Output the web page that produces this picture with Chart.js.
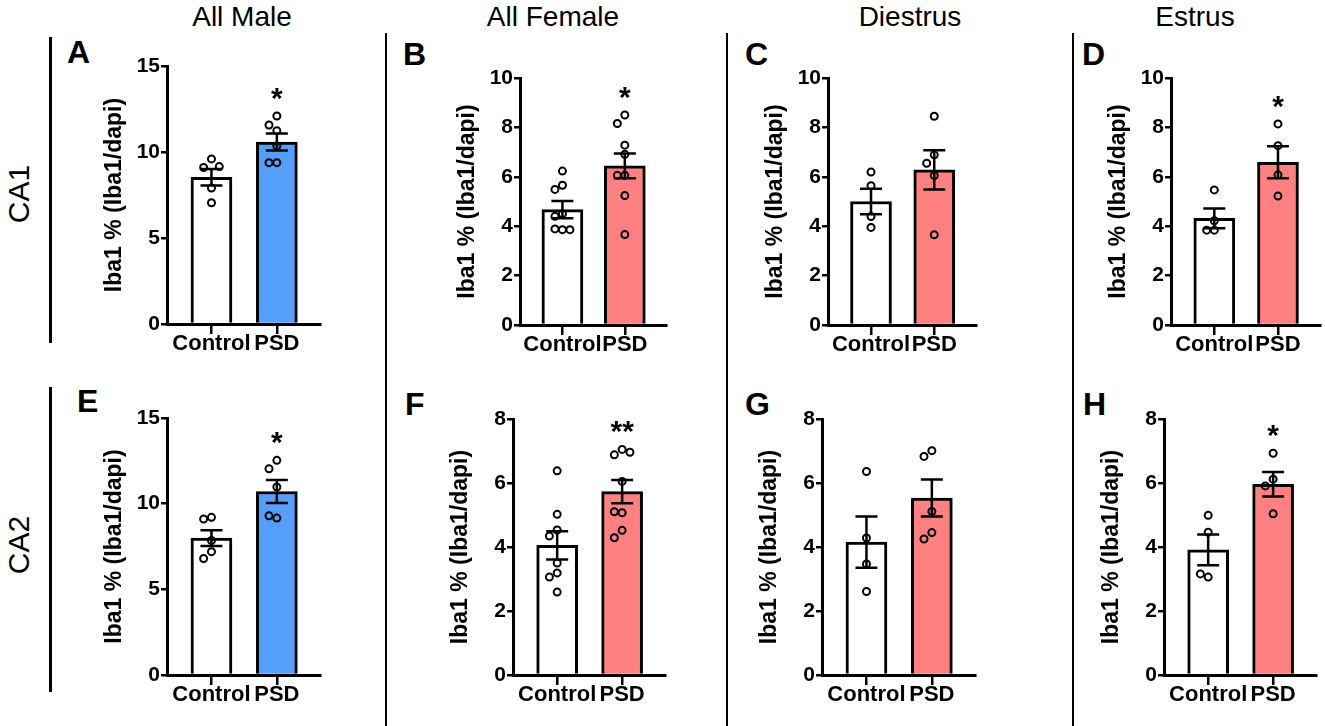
<!DOCTYPE html>
<html>
<head>
<meta charset="utf-8">
<script src="https://cdn.jsdelivr.net/npm/chart.js@4.4.1/dist/chart.umd.min.js"></script>
<style>
  body { margin: 0; background: #fff; }
  #fig { position: relative; width: 1325px; height: 726px; overflow: hidden;
         font-family: "Liberation Sans", Arial, sans-serif; color: #000; }
  .abs { position: absolute; white-space: nowrap; }
  .title { font-size: 28px; line-height: 28px; transform: translateX(-50%); }
  .letter { font-size: 32px; line-height: 32px; font-weight: bold; }
  .row { font-size: 30px; line-height: 30px; transform: translate(-50%, -50%) rotate(-90deg); }
  .vline { position: absolute; background: #000; }
  canvas { position: absolute; }
</style>
</head>
<body>
<div id="fig"></div>
<script>
const groups = ["Control", "PSD"];
const panelLetters = ["A", "B", "C", "D", "E", "F", "G", "H"];
const columnTitles = ["All Male", "All Female", "Diestrus", "Estrus"];
const rowTitles = ["CA1", "CA2"];

const yMax = [15, 10, 10, 10, 15, 8, 8, 8];
const yStep = [5, 2, 2, 2, 5, 2, 2, 2];

const controlMean = [8.53, 4.67, 5.0, 4.32, 7.99, 4.05, 4.15, 3.91];
const psdMean = [10.58, 6.44, 6.28, 6.59, 10.71, 5.73, 5.53, 5.96];
const controlSem = [0.48, 0.35, 0.52, 0.4, 0.46, 0.44, 0.8, 0.48];
const psdSem = [0.49, 0.5, 0.79, 0.65, 0.67, 0.36, 0.58, 0.38];

const controlPoints = [
  [9.6, 9.1, 9.15, 7.9, 7.05],
  [6.23, 5.66, 5.49, 4.5, 4.4, 3.86, 3.89, 3.86],
  [6.19, 5.64, 4.39, 3.95],
  [5.47, 4.22, 3.84, 3.84],
  [9.2, 9.1, 7.85, 7.2, 6.8],
  [6.38, 5.02, 4.53, 4.34, 3.5, 3.19, 3.06, 2.59],
  [6.36, 4.28, 3.47, 2.61],
  [4.99, 4.46, 3.06, 3.16]
];
const psdPoints = [
  [12.09, 11.57, 11.24, 10.35, 9.38, 9.38],
  [8.5, 8.16, 7.28, 6.91, 6.06, 6.06, 5.24, 3.66],
  [8.45, 6.89, 6.55, 6.05, 3.65],
  [8.14, 7.26, 6.08, 5.22],
  [12.53, 12.04, 10.97, 9.16, 9.29],
  [7.05, 6.88, 6.96, 6.05, 5.07, 5.1, 4.52, 4.29],
  [7.01, 6.83, 5.11, 4.45, 4.25],
  [6.93, 6.12, 5.91, 5.04]
];
const stars = ["*", "*", "", "*", "*", "**", "", "*"];

const maleBlue = "#559ffb";
const femalePink = "#ff8080";
const FONT = '"Liberation Sans", Arial, sans-serif';

// layout: y-axis x, x-axis end, top of y-axis, zero line
const frames = [
  [167, 322, 66, 324], [520, 668, 78, 325], [828, 978, 78, 325], [1171, 1322, 78, 325],
  [167, 322, 418, 675], [513, 667, 419, 675], [822, 977, 419, 675], [1164, 1318, 419, 675]
];
const titleX = [242, 553, 910, 1195];
const letterXY = [[67, 36], [403, 38], [745, 38], [1082, 38], [77, 385], [405, 388], [745, 388], [1083, 388]];

const fig = document.getElementById("fig");
Chart.defaults.font.family = FONT;

function addDiv(cls, text, css) {
  const d = document.createElement("div");
  d.className = cls;
  if (text) d.textContent = text;
  Object.assign(d.style, css);
  fig.appendChild(d);
  return d;
}

// frame decoration
columnTitles.forEach((t, i) => addDiv("abs title", t, { left: titleX[i] + "px", top: "3px" }));
rowTitles.forEach((t, i) => addDiv("abs row", t, { left: "19px", top: (i ? 545 : 194) + "px" }));
addDiv("vline", "", { left: "49px", top: "37px", width: "3px", height: "306px" });
addDiv("vline", "", { left: "49px", top: "387px", width: "3px", height: "305px" });
[385, 726, 1072].forEach(x => addDiv("vline", "", { left: x + "px", top: "33px", width: "1.5px", height: "693px" }));
panelLetters.forEach((l, i) => addDiv("abs letter", l, { left: letterXY[i][0] + "px", top: letterXY[i][1] + "px" }));

// spread overlapping dots sideways
function swarm(values, thr, step) {
  const placed = [];
  return values.map(v => {
    const offs = [0];
    for (let k = 1; k < 6; k++) offs.push(-k * step, k * step);
    const dx = offs.find(o => placed.every(p => Math.abs(p.y - v) >= thr || Math.abs(p.x - o) >= step * 0.95));
    placed.push({ x: dx, y: v });
    return dx;
  });
}

const errorBars = {
  id: "errorBars",
  afterDatasetDraw(chart, args, opts) {
    if (args.index !== 0) return;
    const { ctx, scales: { x, y } } = chart;
    ctx.save();
    ctx.strokeStyle = "#000";
    ctx.lineWidth = 2.5;
    opts.means.forEach((m, i) => {
      const px = x.getPixelForValue(i);
      const top = y.getPixelForValue(m + opts.sems[i]);
      const bot = y.getPixelForValue(m - opts.sems[i]);
      ctx.beginPath();
      ctx.moveTo(px, top); ctx.lineTo(px, bot);
      ctx.moveTo(px - 11, top); ctx.lineTo(px + 11, top);
      ctx.moveTo(px - 11, bot); ctx.lineTo(px + 11, bot);
      ctx.stroke();
    });
    ctx.restore();
  },
  afterDraw(chart, args, opts) {
    if (!opts.star) return;
    const { ctx, scales: { x, y } } = chart;
    const cy = y.getPixelForValue(opts.starAbove) - 25;
    ctx.save();
    ctx.fillStyle = "#000";
    ctx.font = "bold 30px " + FONT;
    ctx.textAlign = "center";
    ctx.textBaseline = "alphabetic";
    ctx.fillText(opts.star, x.getPixelForValue(1), cy + 17);
    ctx.restore();
  }
};

panelLetters.forEach((letter, i) => {
  const [ax, rx, ty, zy] = frames[i];
  const left = ax - 71, top = ty - 14;
  const w = rx - left + 4, h = zy - top + 42;
  const canvas = document.createElement("canvas");
  canvas.width = w;
  canvas.height = h;
  canvas.style.left = left + "px";
  canvas.style.top = top + "px";
  fig.appendChild(canvas);

  const thr = yMax[i] * 9 / (zy - ty);
  const pts = [];
  [controlPoints[i], psdPoints[i]].forEach((vals, g) => {
    const dx = swarm(vals, thr, 0.12);
    vals.forEach((v, k) => pts.push({ x: g + dx[k], y: v }));
  });

  const fillPsd = i % 4 === 0 ? maleBlue : femalePink;

  new Chart(canvas, {
    type: "bar",
    data: {
      datasets: [
        {
          type: "bar",
          order: 1,
          data: [{ x: 0, y: controlMean[i] }, { x: 1, y: psdMean[i] }],
          backgroundColor: ["#ffffff", fillPsd],
          borderColor: "#000",
          borderWidth: 3,
          barThickness: 41
        },
        {
          type: "scatter",
          order: 0,
          data: pts,
          pointRadius: 3.5,
          pointBorderWidth: 2,
          pointBorderColor: "#000",
          pointBackgroundColor: "rgba(0,0,0,0)"
        }
      ]
    },
    options: {
      responsive: false,
      animation: false,
      events: [],
      layout: { padding: { left: 2, top: 14, right: 4, bottom: 4 } },
      plugins: {
        legend: { display: false },
        tooltip: { enabled: false },
        errorBars: {
          means: [controlMean[i], psdMean[i]],
          sems: [controlSem[i], psdSem[i]],
          star: stars[i],
          starAbove: Math.max(...psdPoints[i])
        }
      },
      scales: {
        x: {
          type: "linear",
          min: -0.68,
          max: 1.66,
          offset: false,
          afterFit: s => { s.height = 38; },
          ticks: {
            stepSize: 1,
            includeBounds: false,
            callback: v => groups[v],
            color: "#000",
            font: { size: 22, weight: "bold" },
            padding: -3,
            autoSkip: false,
            maxRotation: 0
          },
          grid: { offset: false, drawOnChartArea: false, drawTicks: true, tickLength: 10, color: "#000", lineWidth: 2.5 },
          border: { display: true, color: "#000", width: 3 }
        },
        y: {
          min: 0,
          max: yMax[i],
          afterFit: s => { s.width = 69; },
          ticks: { stepSize: yStep[i], color: "#000", font: { size: 21, weight: "bold" }, padding: 1 },
          grid: { drawOnChartArea: false, drawTicks: true, tickLength: 6, color: "#000", lineWidth: 2.5 },
          border: { display: true, color: "#000", width: 3 },
          title: {
            display: true,
            text: "Iba1 % (Iba1/dapi)",
            color: "#000",
            font: { size: 23, weight: "bold" },
            padding: { top: 3, bottom: 0 }
          }
        }
      }
    },
    plugins: [errorBars]
  });
});
</script>
</body>
</html>
